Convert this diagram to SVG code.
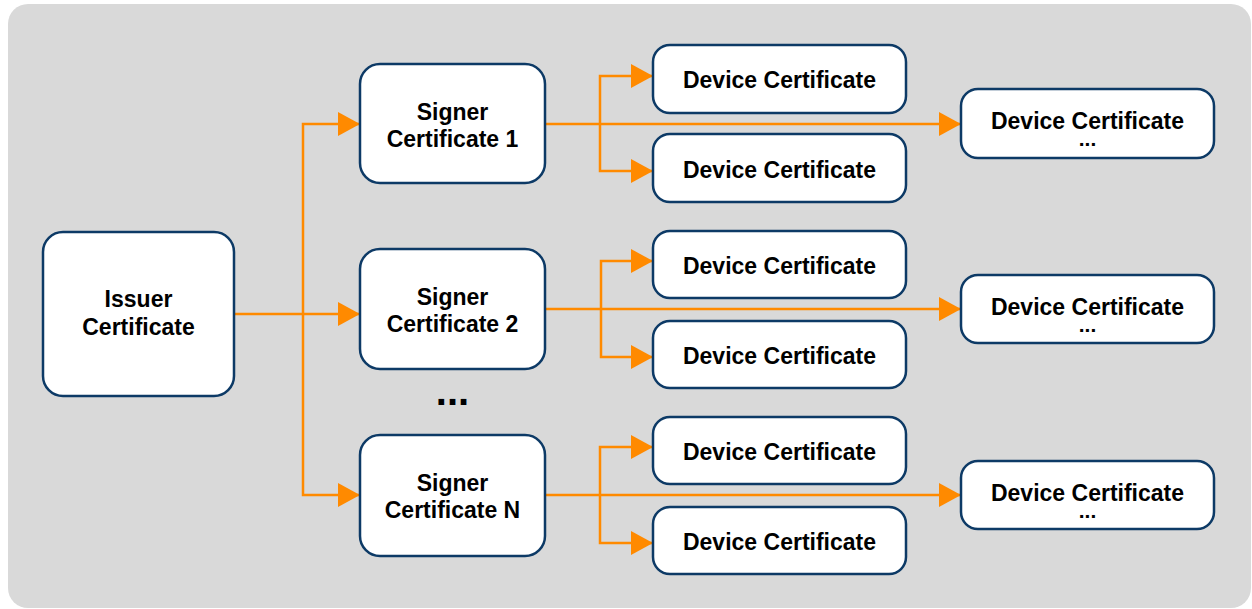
<svg xmlns="http://www.w3.org/2000/svg" width="1252" height="609" viewBox="0 0 1252 609">
<style>
.box{fill:#ffffff;stroke:#0d3a66;stroke-width:2.5}
.t{font-family:"Liberation Sans",Arial,sans-serif;font-weight:bold;font-size:23px;fill:#000;text-anchor:middle}
.d{font-size:21px}
.c{fill:none;stroke:#ff8a00;stroke-width:2.5}
</style>
<defs>
<marker id="ah" markerWidth="22" markerHeight="24" refX="22" refY="12" orient="auto" markerUnits="userSpaceOnUse">
<path d="M0,0 L22,12 L0,24 Z" fill="#ff8a00"/>
</marker>
</defs>
<rect x="8" y="4" width="1243" height="604" rx="20" fill="#d9d9d9"/>
<g id="connectors">
<path class="c" d="M234,314 H360" marker-end="url(#ah)"/>
<path class="c" d="M303,314 V124 H360" marker-end="url(#ah)"/>
<path class="c" d="M303,314 V495 H360" marker-end="url(#ah)"/>
<path class="c" d="M545,124 H961" marker-end="url(#ah)"/>
<path class="c" d="M600,124 V76 H653" marker-end="url(#ah)"/>
<path class="c" d="M600,124 V171 H653" marker-end="url(#ah)"/>
<path class="c" d="M545,309 H961" marker-end="url(#ah)"/>
<path class="c" d="M601,309 V261 H653" marker-end="url(#ah)"/>
<path class="c" d="M601,309 V357 H653" marker-end="url(#ah)"/>
<path class="c" d="M545,495 H961" marker-end="url(#ah)"/>
<path class="c" d="M600,495 V447 H653" marker-end="url(#ah)"/>
<path class="c" d="M600,495 V543 H653" marker-end="url(#ah)"/>
</g>
<g id="issuer">
<rect class="box" x="43" y="232" width="191" height="164" rx="20"/>
<text class="t" x="138.5" y="307">Issuer</text>
<text class="t" x="138.5" y="335">Certificate</text>
</g>
<g id="signer1">
<rect class="box" x="360" y="64" width="185" height="119" rx="20"/>
<text class="t" x="452.5" y="120">Signer</text>
<text class="t" x="452.5" y="147">Certificate 1</text>
</g>
<g id="signer2">
<rect class="box" x="360" y="249" width="185" height="120" rx="20"/>
<text class="t" x="452.5" y="305">Signer</text>
<text class="t" x="452.5" y="332">Certificate 2</text>
</g>
<g id="ellipsis">
<text class="t" x="452.5" y="405" style="font-size:40px">...</text>
</g>
<g id="signerN">
<rect class="box" x="360" y="435" width="185" height="121" rx="20"/>
<text class="t" x="452.5" y="491">Signer</text>
<text class="t" x="452.5" y="518">Certificate N</text>
</g>
<g id="device1a">
<rect class="box" x="653" y="45" width="253" height="68" rx="17"/>
<text class="t" x="779.5" y="88">Device Certificate</text>
</g>
<g id="device1b">
<rect class="box" x="653" y="134" width="253" height="68" rx="17"/>
<text class="t" x="779.5" y="178">Device Certificate</text>
</g>
<g id="device1c">
<rect class="box" x="961" y="89" width="253" height="69" rx="17"/>
<text class="t" x="1087.5" y="129">Device Certificate</text>
<text class="t d" x="1087.5" y="146">...</text>
</g>
<g id="device2a">
<rect class="box" x="653" y="231" width="253" height="67" rx="17"/>
<text class="t" x="779.5" y="274">Device Certificate</text>
</g>
<g id="device2b">
<rect class="box" x="653" y="321" width="253" height="67" rx="17"/>
<text class="t" x="779.5" y="364">Device Certificate</text>
</g>
<g id="device2c">
<rect class="box" x="961" y="275" width="253" height="68" rx="17"/>
<text class="t" x="1087.5" y="315">Device Certificate</text>
<text class="t d" x="1087.5" y="332">...</text>
</g>
<g id="device3a">
<rect class="box" x="653" y="417" width="253" height="67" rx="17"/>
<text class="t" x="779.5" y="460">Device Certificate</text>
</g>
<g id="device3b">
<rect class="box" x="653" y="507" width="253" height="67" rx="17"/>
<text class="t" x="779.5" y="550">Device Certificate</text>
</g>
<g id="device3c">
<rect class="box" x="961" y="461" width="253" height="68" rx="17"/>
<text class="t" x="1087.5" y="501">Device Certificate</text>
<text class="t d" x="1087.5" y="518">...</text>
</g>
</svg>
